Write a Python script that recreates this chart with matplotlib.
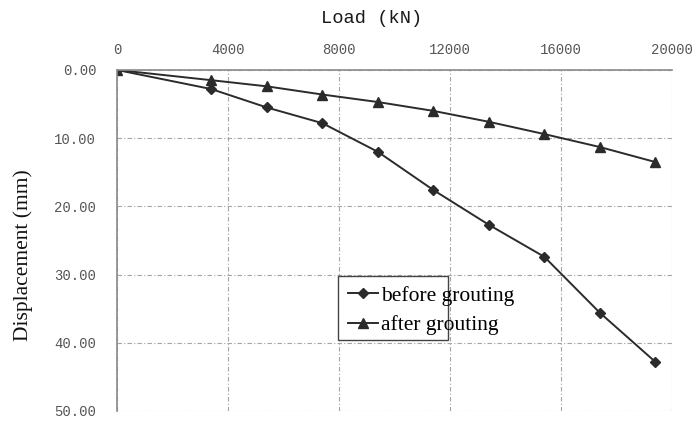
import numpy
from matplotlib import pyplot
from matplotlib.patches import Rectangle

# load steps (kN) and pile head displacement (mm)
load = [0, 3400, 5400, 7400, 9400, 11400, 13400, 15400, 17400, 19400]
before_grouting = [0.0, 2.8, 5.5, 7.8, 12.0, 17.6, 22.7, 27.4, 35.6, 42.8]
after_grouting = [0.0, 1.5, 2.4, 3.6, 4.7, 6.0, 7.6, 9.4, 11.3, 13.5]

x_ticks = [0, 4000, 8000, 12000, 16000, 20000]
y_ticks = [0, 10, 20, 30, 40, 50]

fig = pyplot.figure(figsize=(6.94, 4.21), dpi=100)
ax = fig.add_axes([0.1686, 0.0238, 0.7997, 0.81])

line_color = '#2b2b2b'
ax.plot(load, before_grouting, color=line_color, lw=1.4, marker='D',
        markersize=5.5, label='before grouting')
ax.plot(load, after_grouting, color=line_color, lw=1.4, marker='^',
        markersize=7, label='after grouting')

ax.set_xlim(0, 20000)
ax.set_ylim(50, 0)
ax.xaxis.tick_top()
ax.set_xticks(x_ticks)
ax.set_yticks(y_ticks)
ax.set_xticklabels([str(v) for v in x_ticks])
ax.set_yticklabels([f'{v:.2f}' for v in y_ticks])
ax.tick_params(length=0, labelsize=10, labelcolor='#555555')
ax.tick_params(axis='x', pad=9)
ax.tick_params(axis='y', pad=15)
for lab in ax.get_xticklabels() + ax.get_yticklabels():
    lab.set_family('Liberation Mono')

ax.grid(True, color='#a5a5a5', linestyle=(0, (4, 2, 1, 2)), linewidth=0.8)
for side in ['right', 'bottom']:
    ax.spines[side].set_visible(False)
for side in ['left', 'top']:
    ax.spines[side].set_color('#8a8a8a')
    ax.spines[side].set_linewidth(1.2)

fig.text(0.535, 0.955, 'Load (kN)', ha='center', va='center',
         fontsize=13.5, family='Liberation Mono', color='#1a1a1a')
fig.text(0.034, 0.394, 'Displacement (mm)', ha='center', va='center',
         rotation=90, fontsize=15.5, family='Liberation Serif', color='#111111')

# excel-style legend: text runs past the frame
leg = ax.legend(loc='upper left', bbox_to_anchor=(0.398, 0.396),
                prop={'family': 'Liberation Serif', 'size': 15.5},
                frameon=False, handlelength=1.4,
                handletextpad=0.15, borderpad=0.45, labelspacing=0.45,
                borderaxespad=0)
ax.add_patch(Rectangle((0.398, 0.208), 0.198, 0.188, transform=ax.transAxes,
                       facecolor='white', edgecolor='#444444', lw=1.0,
                       zorder=4))
leg.set_zorder(5)

fig.savefig('out.png', dpi=100)
